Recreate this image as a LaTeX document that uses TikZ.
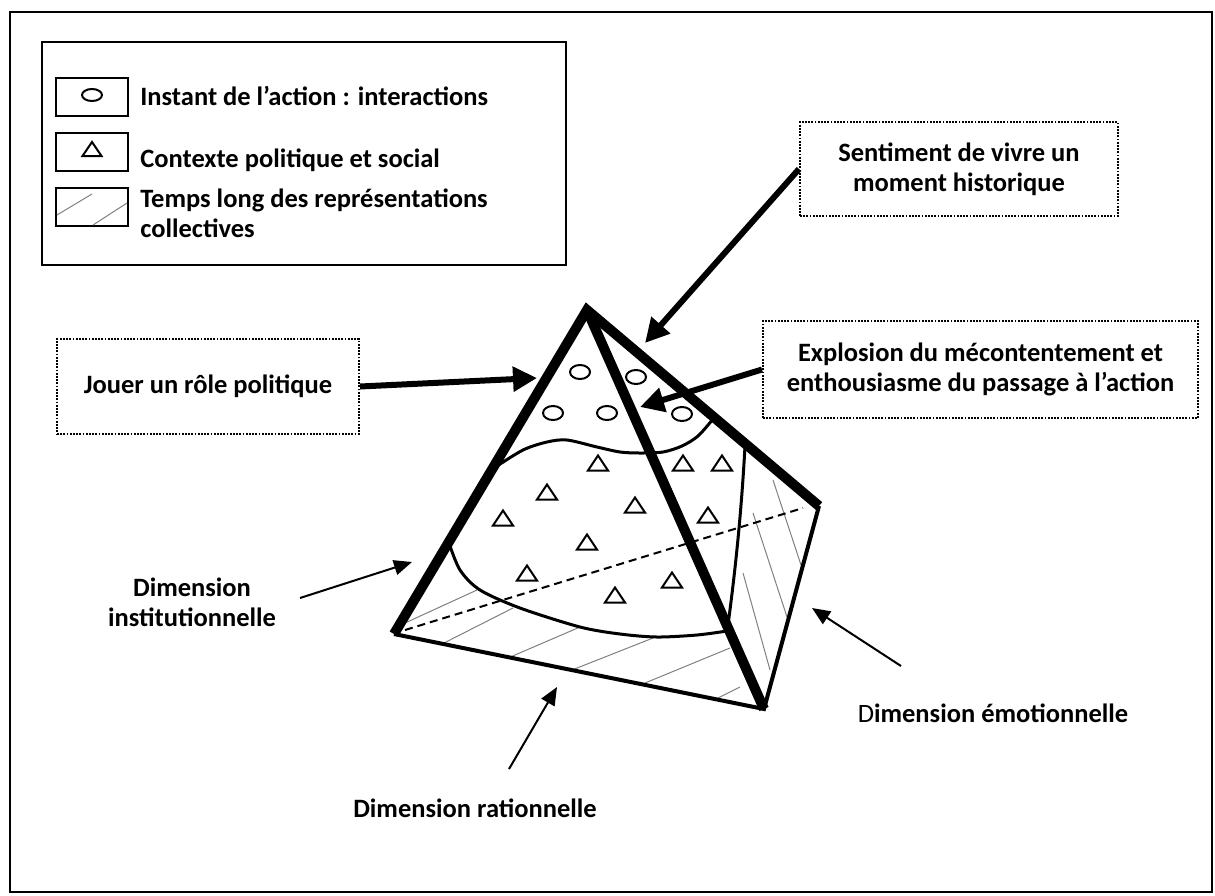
\documentclass[tikz,border=0pt]{standalone}
\usepackage{fontspec}
\setmainfont{Carlito}
\usetikzlibrary{arrows.meta}
\tikzset{
	lbl/.style={font=\bfseries\fontsize{13.25pt}{15pt}\selectfont,inner sep=0pt},
	dotbox/.style={lbl,draw,line width=1pt,dash pattern=on 0.9pt off 0.7pt,align=center},
	keybox/.style={draw,line width=1pt,minimum width=36pt,minimum height=19pt,inner sep=0pt},
	bigarrow/.style={line width=3pt,-{Triangle[length=12pt,width=12pt]}},
	thinarrow/.style={line width=1pt,-{Triangle[length=9pt,width=7.5pt]}},
	rib/.style={line width=5pt},
	face/.style={line width=2pt},
	bound/.style={line width=1.5pt},
	hatch/.style={line width=0.5pt,gray},
	sym/.style={line width=1pt}
}
\begin{document}
\begin{tikzpicture}[x=0.5pt,y=-0.5pt]
			      \useasboundingbox (0,0) rectangle (1215,895);
			      \draw[line width=1.4pt] (10,12) rectangle (1212,892);
			      % legende
			      \draw[line width=1pt] (42,42) rectangle (566,265);
			      \node[keybox] (kcircle) at (92,96.5) {};
			      \node[keybox] (ktri) at (92,152) {};
			      \node[keybox] (khatch) at (92,206.5) {};
			      \draw[sym] (92,95) ellipse [x radius=5pt,y radius=3pt];
			      \draw[sym] (82.5,156)--++(19,0)--++(-9.5,-14)--cycle;
			      \draw[hatch] (57,215)--(92,194) (93,225)--(127,203);
			      \node[lbl,anchor=base west] (instant) at (140,105) {Instant de l’action : interactions};
			      \node[lbl,anchor=base west] (contexte) at (140,167) {Contexte politique et social};
			      \node[lbl,anchor=base west,align=left] (temps) at (140,237) {Temps long des représentations\\collectives};
			      % pyramide
			      \coordinate (A) at (587,310);
			      \coordinate (L) at (394,634);
			      \coordinate (M) at (764,709);
			      \coordinate (R) at (819,506);
			      \draw[hatch] (405,623)--(477,590) (440,645)--(513,608) (508,658)--(580,627)
			      (572,670)--(653,638) (645,683)--(730,648) (718,698)--(740,687);
			      \draw[hatch] (753,513)--(787,617) (773,480)--(801,565) (743,573)--(770,670);
			      \draw[face] (L)--(M)--(R);
			      \draw[line width=1pt,dash pattern=on 4pt off 2.5pt] (405,630)--(803,508);
			      \draw[bound] plot[smooth] coordinates {(494,468) (523,450) (547,442) (567,440) (597,447) (620,452) (640,453) (663,452) (682,446) (698,436) (713,419)};
			      \draw[bound] plot[smooth] coordinates {(449,543) (460,570) (480,590) (520,608) (580,627) (620,634) (657,637) (697,635) (727,631)};
			      \draw[bound] (745,446) .. controls (741,520) and (734,580) .. (728,625);
			      \foreach \p in {(580,372),(636,377),(553,413),(607,413),(682,414)}
			      \draw[sym] \p ellipse [x radius=5pt,y radius=3.5pt];
			      \foreach \p in {(598,463),(683,463),(722,463),(547,492),(635,505),(503,518),(708,515),(587,542),(527,573),(672,580),(615,595)}
			      \draw[sym] \p ++(-10,7.5)--++(20,0)--++(-10,-15)--cycle;
			      \draw[rib,line join=miter] (L)--(A)--(R);
			      \draw[rib] (A)--(M);
			      % encadres
			      \node[dotbox,minimum width=151pt,minimum height=47.5pt] (jouer) at (208,386.5) {Jouer un rôle politique};
			      \node[dotbox,minimum width=159pt,minimum height=47pt] (sentiment) at (959,169) {Sentiment de vivre un\\moment historique};
			      \node[dotbox,minimum width=217.5pt,minimum height=48.5pt] (explosion) at (980.5,369.5) {Explosion du mécontentement et\\enthousiasme du passage à l’action};
			      \coordinate (tipJ) at (537,378);
			      \coordinate (tipS) at (645,343);
			      \coordinate (tipE) at (640,407);
			      \draw[bigarrow] (jouer.east)--(tipJ);
			      \draw[bigarrow] (sentiment.west)--(tipS);
			      \draw[bigarrow] (explosion.west)--(tipE);
			      % dimensions
			      \node[lbl,align=center,anchor=north] (inst) at (192,577) {Dimension\\institutionnelle};
			      \node[lbl,anchor=base] (rat) at (475,817) {Dimension rationnelle};
			      \node[lbl,anchor=base] (emo) at (993,722) {{\mdseries D}imension émotionnelle};
			      \coordinate (instTail) at (300,598);
			      \coordinate (instTip) at (412,562);
			      \coordinate (ratTail) at (509,769);
			      \coordinate (ratTip) at (557,687);
			      \coordinate (emoTail) at (901,666);
			      \coordinate (emoTip) at (812,608);
			      \draw[thinarrow] (instTail)--(instTip);
			      \draw[thinarrow] (ratTail)--(ratTip);
			      \draw[thinarrow] (emoTail)--(emoTip);
		      \end{tikzpicture}
\end{document}
